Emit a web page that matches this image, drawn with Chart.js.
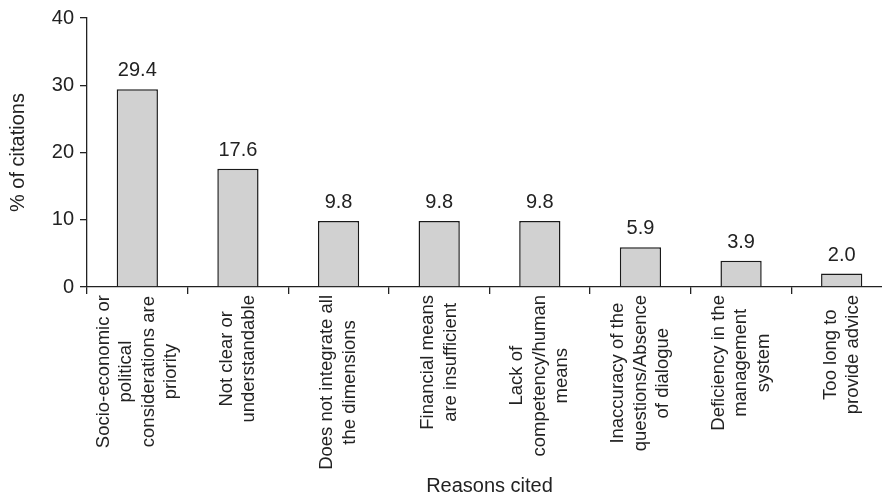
<!DOCTYPE html>
<html>
<head>
<meta charset="utf-8">
<script src="https://cdn.jsdelivr.net/npm/chart.js@4/dist/chart.umd.min.js"></script>
<style>
  html, body { margin: 0; padding: 0; background: #fff; overflow: hidden; }
  #wrap { width: 882px; height: 502px; overflow: hidden; position: relative; }
  canvas { display: block; }
</style>
</head>
<body>
<div id="wrap"><canvas id="chart" width="893" height="502"></canvas></div>
<script>
// Data
const reasons = [
  ["Socio-economic or", "political", "considerations are", "priority"],
  ["Not clear or", "understandable"],
  ["Does not integrate all", "the dimensions"],
  ["Financial means", "are insufficient"],
  ["Lack of", "competency/human", "means"],
  ["Inaccuracy of the", "questions/Absence", "of dialogue"],
  ["Deficiency in the", "management", "system"],
  ["Too long to", "provide advice"]
];
const citations = [29.4, 17.6, 9.8, 9.8, 9.8, 5.9, 3.9, 2.0];
const yTicks = [0, 10, 20, 30, 40];
const xTitle = "Reasons cited";
const yTitle = "% of citations";

const FONT = "'Liberation Sans', Arial, Helvetica, sans-serif";
const INK = "#222";

// value labels on top of the bars + rotated category labels + x title
const labelsPlugin = {
  id: 'labelsPlugin',
  afterDatasetsDraw(chart) {
    const ctx = chart.ctx;
    const meta = chart.getDatasetMeta(0);
    ctx.save();
    ctx.fillStyle = INK;
    ctx.font = `20px ${FONT}`;
    ctx.textAlign = 'center';
    ctx.textBaseline = 'alphabetic';
    meta.data.forEach((bar, i) => {
      ctx.fillText(citations[i].toFixed(1), bar.x, bar.y - 13);
    });
    ctx.restore();
  },
  afterDraw(chart) {
    const ctx = chart.ctx;
    const xs = chart.scales.x;
    const area = chart.chartArea;
    const lh = 22.5;
    ctx.save();
    ctx.fillStyle = INK;
    ctx.font = `18.5px ${FONT}`;
    reasons.forEach((lines, i) => {
      const cx = xs.getPixelForValue(i);
      const w = Math.max(...lines.map(l => ctx.measureText(l).width));
      ctx.save();
      ctx.translate(cx, area.bottom + 8);
      ctx.rotate(-Math.PI / 2);
      ctx.textAlign = 'center';
      ctx.textBaseline = 'middle';
      lines.forEach((l, j) => {
        ctx.fillText(l, -w / 2, (j - (lines.length - 1) / 2) * lh);
      });
      ctx.restore();
    });
    ctx.font = `20px ${FONT}`;
    ctx.textAlign = 'center';
    ctx.textBaseline = 'middle';
    ctx.fillText(xTitle, (area.left + area.right) / 2, 486);
    ctx.restore();
  }
};

new Chart(document.getElementById('chart'), {
  type: 'bar',
  data: {
    labels: reasons.map(r => r.join(' ')),
    datasets: [{
      data: citations,
      backgroundColor: '#d1d1d1',
      borderColor: '#1a1a1a',
      borderWidth: 1.5,
      categoryPercentage: 1,
      barPercentage: 0.41
    }]
  },
  options: {
    responsive: false,
    animation: false,
    devicePixelRatio: 1,
    layout: { padding: { top: 17, right: 1, left: 0, bottom: 0 } },
    plugins: { legend: { display: false }, tooltip: { enabled: false } },
    scales: {
      x: {
        offset: true,
        ticks: { display: false },
        grid: { offset: true, drawOnChartArea: false, drawTicks: true, tickLength: 7, color: INK, lineWidth: 1.3 },
        border: { display: true, color: INK, width: 1.3 },
        afterFit(scale) { scale.height = 215; }
      },
      y: {
        min: 0, max: 40,
        afterBuildTicks(scale) { scale.ticks = yTicks.map(v => ({ value: v })); },
        ticks: { color: INK, font: { family: FONT, size: 20 }, padding: 6 },
        grid: { drawOnChartArea: false, drawTicks: true, tickLength: 7, color: INK, lineWidth: 1.3 },
        border: { display: true, color: INK, width: 1.3 },
        title: { display: true, text: yTitle, color: INK, font: { family: FONT, size: 20 }, padding: { top: 6, bottom: 0 } },
        afterFit(scale) { scale.width = 87; }
      }
    }
  },
  plugins: [labelsPlugin]
});
</script>
</body>
</html>
